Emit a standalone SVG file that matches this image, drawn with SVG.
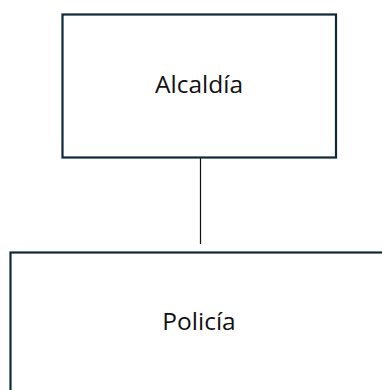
<svg xmlns="http://www.w3.org/2000/svg" width="382" height="390" viewBox="0 0 382 390">
<style>
.box{fill:#ffffff;stroke:#0e2838;stroke-width:2.2}
.lbl{font-family:"Open Sans","Liberation Sans",sans-serif;font-size:24.5px;fill:#111111;text-anchor:middle}
.conn{stroke:#111111;stroke-width:1.2;fill:none}
</style>
<rect width="382" height="390" fill="#ffffff"/>
<g id="connectors">
<line class="conn" x1="200.5" y1="158" x2="200.5" y2="244"/>
</g>
<g id="alcaldia">
<rect class="box" x="62.5" y="14.5" width="273.5" height="143"/>
<text class="lbl" x="199" y="92.5">Alcaldía</text>
</g>
<g id="policia">
<rect class="box" x="10.5" y="252.5" width="420" height="200"/>
<text class="lbl" x="199" y="330">Policía</text>
</g>
</svg>
